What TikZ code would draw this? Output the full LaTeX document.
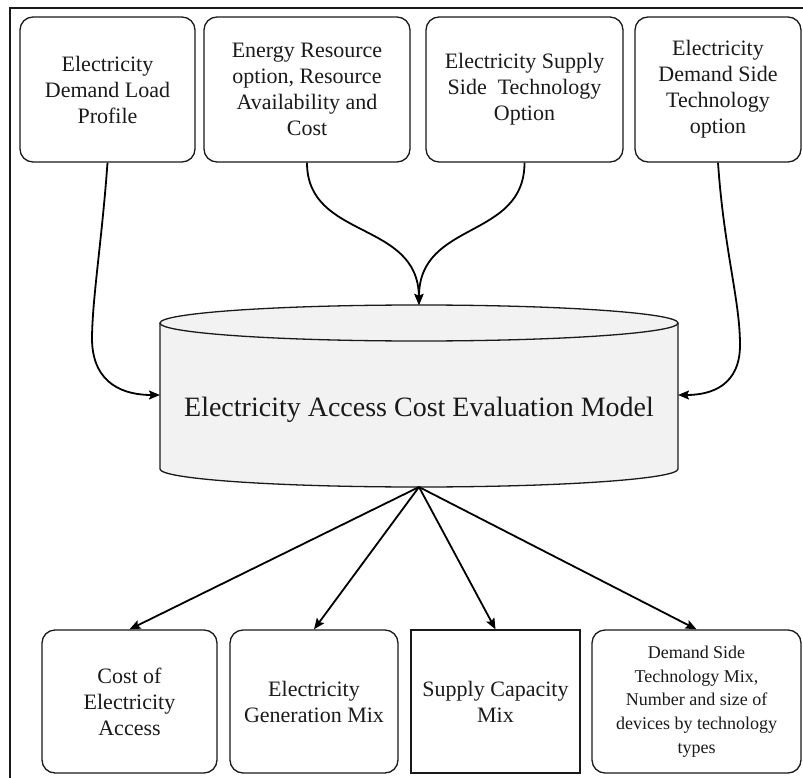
\documentclass[tikz,border=0pt]{standalone}
\usepackage{fontspec}
\setmainfont{Liberation Serif}
\usetikzlibrary{arrows.meta}
\definecolor{cylfill}{HTML}{F2F2F2}
\definecolor{ink}{HTML}{1A1A1A}
\tikzset{
  inbox/.style={draw=ink, line width=1.3pt, rounded corners=13pt, align=center,
    inner sep=2pt, font=\fontsize{22}{26}\selectfont, text=ink},
  sqbox/.style={draw=ink, line width=1.3pt, align=center,
    inner sep=2pt, font=\fontsize{22}{26}\selectfont, text=ink},
  conn/.style={draw=black, line width=1.8pt, -{Stealth[length=11pt,width=9pt,inset=2pt]}},
}
\begin{document}
\begin{tikzpicture}[x=1pt,y=-1pt]
\useasboundingbox (0,0) rectangle (803,778);
\fill[white] (0,0) rectangle (803,778);
% frame (left and top sides visible)
\draw[line width=1.4pt, ink] (10,790) -- (10,8) -- (815,8);

% top boxes
\node[inbox, minimum width=175pt, minimum height=145pt] (b1) at (107.5,89.5)
  {Electricity\\Demand Load\\Profile};
\node[inbox, minimum width=206pt, minimum height=145pt] (b2) at (307,89.5)
  {Energy Resource\\option, Resource\\Availability and\\Cost};
\node[inbox, minimum width=197pt, minimum height=145pt] (b3) at (524.5,89.5)
  {Electricity Supply\\Side\ \ Technology\\Option};
\node[inbox, minimum width=166pt, minimum height=145pt] (b4) at (718,89.5)
  {Electricity\\Demand Side\\Technology\\option};

% cylinder
\fill[cylfill] (160,323) -- (160,469)
  arc[start angle=180, end angle=360, x radius=259pt, y radius=18pt]
  -- (678,323)
  arc[start angle=0, end angle=180, x radius=259pt, y radius=18pt] -- cycle;
\draw[ink, line width=1.3pt] (160,323) -- (160,469)
  arc[start angle=180, end angle=360, x radius=259pt, y radius=18pt]
  -- (678,323);
\draw[ink, line width=1.3pt] (419,323) ellipse[x radius=259pt, y radius=18pt];
\node[font=\fontsize{28}{32}\selectfont, text=ink] (model) at (419,410)
  {Electricity Access Cost Evaluation Model};
\coordinate (mtop) at (419,305);
\coordinate (mbot) at (419,487);
\coordinate (mleft) at (160,395);
\coordinate (mright) at (678,395);

% bottom boxes
\node[inbox, minimum width=175pt, minimum height=143pt] (bA) at (129.5,701.5)
  {Cost of\\Electricity\\Access};
\node[inbox, minimum width=168pt, minimum height=143pt] (bB) at (314,701.5)
  {Electricity\\Generation Mix};
\node[sqbox, minimum width=169pt, minimum height=143pt] (bC) at (495.5,701.5)
  {Supply Capacity\\Mix};
\node[inbox, minimum width=209pt, minimum height=143pt,
  font=\fontsize{18}{23.7}\selectfont] (bD) at (696.5,701.5)
  {Demand Side\\Technology Mix,\\Number and size of\\devices by technology\\types};

% input connectors
\draw[conn] (b1.south) .. controls (102,240) and (92,300) .. (92,340)
  .. controls (93,385) and (125,395) .. (mleft);
\draw[conn] (b4.south) .. controls (724,250) and (740,300) .. (740,345)
  .. controls (740,385) and (712,395) .. (mright);
\draw[conn] (b2.south) .. controls (307,240) and (418,220) .. (mtop);
\draw[conn] (b3.south) .. controls (524.5,240) and (419,220) .. (mtop);

% output connectors
\draw[conn] (mbot) -- (bA.north);
\draw[conn] (mbot) -- (bB.north);
\draw[conn] (mbot) -- (bC.north);
\draw[conn] (mbot) -- (bD.north);
\end{tikzpicture}
\end{document}
